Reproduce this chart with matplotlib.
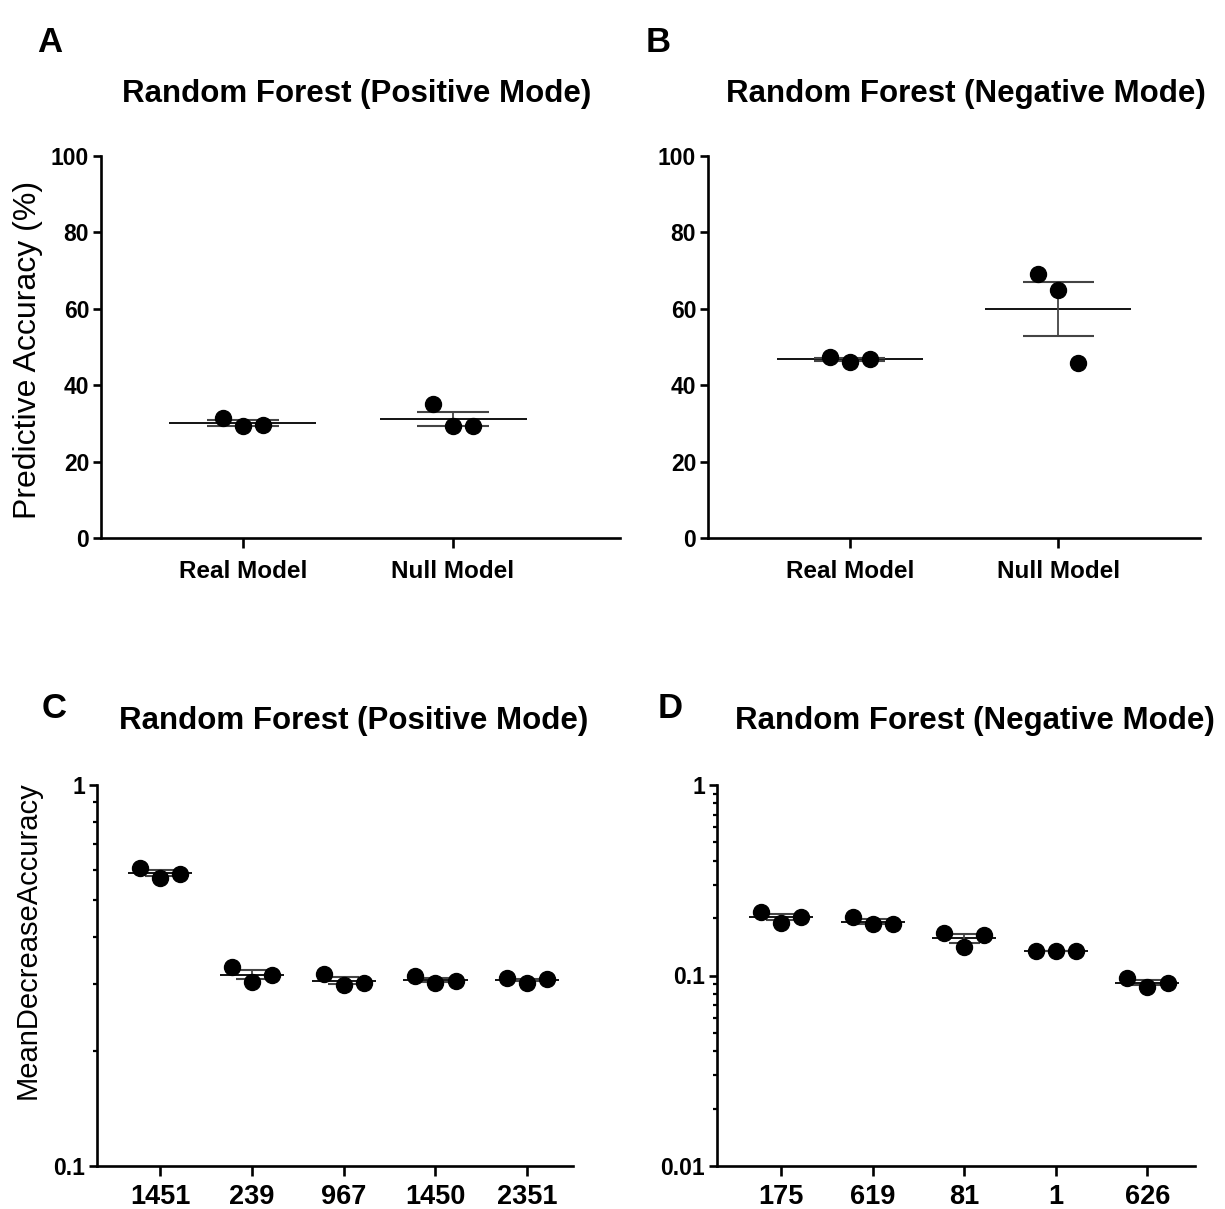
import numpy as np
import matplotlib
matplotlib.use('Agg')
import matplotlib.pyplot as plt
from matplotlib.ticker import FixedLocator, FixedFormatter, NullFormatter

# panel A / B: predictive accuracy (%)
model_cats = ['Real Model', 'Null Model']
pos_acc = [[31.5, 29.3, 29.5], [35.0, 29.3, 29.3]]
neg_acc = [[47.4, 46.1, 46.9], [69.1, 64.9, 45.8]]

# panel C / D: MeanDecreaseAccuracy of top features
pos_feats = ['1451', '239', '967', '1450', '2351']
pos_mda = [[0.605, 0.570, 0.584],
           [0.333, 0.304, 0.317],
           [0.319, 0.299, 0.302],
           [0.315, 0.302, 0.306],
           [0.311, 0.303, 0.309]]
neg_feats = ['175', '619', '81', '1', '626']
neg_mda = [[0.215, 0.189, 0.203],
           [0.203, 0.186, 0.186],
           [0.167, 0.141, 0.163],
           [0.134, 0.134, 0.134],
           [0.097, 0.087, 0.091]]

BOLD = 'Liberation Sans'
NARROW = ['Liberation Sans Narrow', 'Liberation Sans']
W, H = 1225, 1209


def px_box(x0, x1, ytop, ybot):
    return [x0 / W, 1 - ybot / H, (x1 - x0) / W, (ybot - ytop) / H]


def draw_groups(ax, groups, dx):
    for i, vals in enumerate(groups):
        vals = np.array(vals)
        m = vals.mean()
        s = vals.std(ddof=1) / np.sqrt(len(vals))
        ax.hlines(m, i - 0.35, i + 0.35, color='black', lw=1.3, zorder=2)
        ax.hlines([m - s, m + s], i - 0.17, i + 0.17, color='#444444', lw=1.5, zorder=2)
        ax.vlines(i, m - s, m + s, color='#444444', lw=1.3, zorder=2)
        xs = i + np.array([-dx, 0, dx])
        ax.plot(xs, vals, 'o', color='black', ms=11.5, zorder=3)


def style_axes(ax, cats, xfont, xsize, xpad):
    for sp in ['top', 'right']:
        ax.spines[sp].set_visible(False)
    for sp in ['left', 'bottom']:
        ax.spines[sp].set_linewidth(1.9)
    ax.set_xticks(range(len(cats)))
    ax.set_xticklabels(cats, fontfamily=xfont, fontweight='bold', fontsize=xsize)
    ax.tick_params(axis='x', length=7, width=1.9, pad=xpad)
    ax.tick_params(axis='y', which='major', length=5.5, width=1.9, pad=3,
                   labelsize=16.5)
    ax.tick_params(axis='y', which='minor', length=3, width=1.6)
    for lab in ax.get_yticklabels():
        lab.set_fontweight('bold')
        lab.set_fontfamily(BOLD)


fig = plt.figure(figsize=(W / 100, H / 100), dpi=100)

# A
axA = fig.add_axes(px_box(101, 620, 156, 538))
draw_groups(axA, pos_acc, 0.095)
axA.set_xlim(-0.676, 1.795)
axA.set_ylim(0, 100)
axA.set_yticks([0, 20, 40, 60, 80, 100])
style_axes(axA, model_cats, BOLD, 17.5, 9)

# B
axB = fig.add_axes(px_box(708, 1200, 156, 538))
draw_groups(axB, neg_acc, 0.095)
axB.set_xlim(-0.68, 1.68)
axB.set_ylim(0, 100)
axB.set_yticks([0, 20, 40, 60, 80, 100])
style_axes(axB, model_cats, BOLD, 17.5, 9)

# C
axC = fig.add_axes(px_box(97, 573, 785, 1166))
axC.set_yscale('log')
draw_groups(axC, pos_mda, 0.22)
axC.set_xlim(-0.69, 4.5)
axC.set_ylim(0.1, 1)
axC.yaxis.set_major_locator(FixedLocator([0.1, 1]))
axC.yaxis.set_major_formatter(FixedFormatter(['0.1', '1']))
axC.yaxis.set_minor_locator(FixedLocator(np.arange(0.2, 1.0, 0.1)))
axC.yaxis.set_minor_formatter(NullFormatter())
style_axes(axC, pos_feats, NARROW, 19.5, 6)

# D
axD = fig.add_axes(px_box(717, 1195, 785, 1166))
axD.set_yscale('log')
draw_groups(axD, neg_mda, 0.22)
axD.set_xlim(-0.70, 4.52)
axD.set_ylim(0.01, 1)
axD.yaxis.set_major_locator(FixedLocator([0.01, 0.1, 1]))
axD.yaxis.set_major_formatter(FixedFormatter(['0.01', '0.1', '1']))
minor = np.concatenate([np.arange(0.02, 0.1, 0.01), np.arange(0.2, 1.0, 0.1)])
axD.yaxis.set_minor_locator(FixedLocator(minor))
axD.yaxis.set_minor_formatter(NullFormatter())
style_axes(axD, neg_feats, NARROW, 19.5, 6)

# titles, panel letters, axis labels
title_kw = dict(fontfamily=BOLD, fontweight='bold', fontsize=22.5, ha='center', va='center')
fig.text(357 / W, 1 - 94 / H, 'Random Forest (Positive Mode)', **title_kw)
fig.text(966 / W, 1 - 94 / H, 'Random Forest (Negative Mode)', **title_kw)
fig.text(354 / W, 1 - 721 / H, 'Random Forest (Positive Mode)', **title_kw)
fig.text(975 / W, 1 - 721 / H, 'Random Forest (Negative Mode)', **title_kw)

letter_kw = dict(fontfamily=BOLD, fontweight='bold', fontsize=25, ha='center', va='center')
fig.text(50 / W, 1 - 42 / H, 'A', **letter_kw)
fig.text(658 / W, 1 - 42 / H, 'B', **letter_kw)
fig.text(54 / W, 1 - 708 / H, 'C', **letter_kw)
fig.text(670 / W, 1 - 708 / H, 'D', **letter_kw)

ylab_kw = dict(fontfamily=BOLD, rotation=90, ha='center', va='center')
fig.text(28 / W, 1 - 350 / H, 'Predictive Accuracy (%)', fontsize=23, **ylab_kw)
fig.text(28 / W, 1 - 940 / H, 'MeanDecreaseAccuracy', fontsize=21, **ylab_kw)

fig.savefig('out.png', dpi=100)
